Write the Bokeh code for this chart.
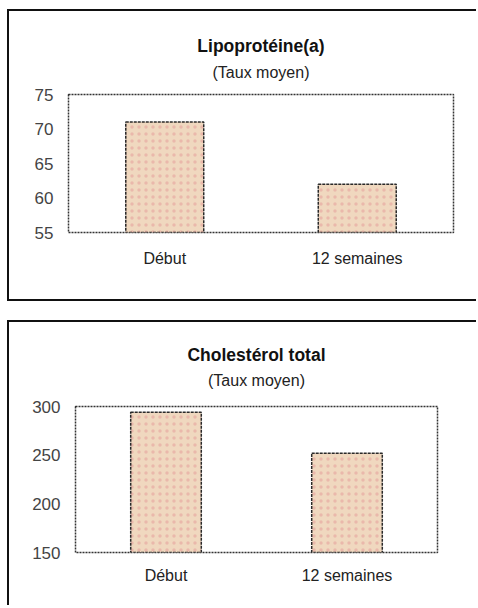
from bokeh.plotting import figure
from bokeh.models import Range1d, FactorRange, FixedTicker, Title
from bokeh.embed import file_html
from bokeh.resources import INLINE

categories = ["Début", "12 semaines"]
lpa_values = [71, 62]
lpa_ticks = [55, 60, 65, 70, 75]
chol_values = [294, 252]
chol_ticks = [150, 200, 250, 300]

FONT = "Liberation Sans"


def panel(title, subtitle, values, ticks, ymin, ymax, width, height,
          bl, br, bt, bb, bar_w, sub_standoff, main_standoff, margin_top, x_standoff,
          border_bottom):
    styles = {"border-left": "2px solid #111", "border-top": "2px solid #111",
              "margin-left": "7px", "margin-top": margin_top}
    if border_bottom:
        styles["border-bottom"] = "2px solid #111"
    p = figure(x_range=FactorRange(*categories, range_padding=0),
               y_range=Range1d(ymin, ymax),
               width=width, height=height, title=None,
               output_backend="svg", toolbar_location=None,
               min_border_left=bl, min_border_right=br,
               min_border_top=bt, min_border_bottom=bb,
               background_fill_color="white", border_fill_color="white",
               styles=styles)
    p.vbar(x=categories, top=values, bottom=ymin, width=bar_w,
           fill_color="#f0d8bf", line_color="#2a2a2a", line_width=1.5, line_dash="3 1",
           hatch_pattern="dot", hatch_color="#e8aea4", hatch_alpha=0.75,
           hatch_scale=7, hatch_weight=1.1)
    p.add_layout(Title(text=subtitle, align="center", text_font=FONT,
                       text_font_size="16px", text_font_style="normal",
                       text_color="#222", standoff=sub_standoff), "above")
    p.add_layout(Title(text=title, align="center", text_font=FONT,
                       text_font_size="17.5px", text_font_style="bold",
                       text_color="#111", standoff=main_standoff), "above")
    p.outline_line_color = "#333"
    p.outline_line_dash = "2 1"
    p.outline_line_width = 1.5
    p.xgrid.grid_line_color = None
    p.ygrid.grid_line_color = None
    p.yaxis.ticker = FixedTicker(ticks=ticks)
    for ax in (p.xaxis[0], p.yaxis[0]):
        ax.axis_line_color = None
        ax.major_tick_line_color = None
        ax.minor_tick_line_color = None
        ax.major_label_text_font = FONT
    p.yaxis.major_label_text_font_size = "17px"
    p.xaxis.major_label_text_font_size = "16px"
    p.yaxis.major_label_text_color = "#444"
    p.xaxis.major_label_text_color = "#222"
    p.xaxis.major_label_standoff = x_standoff
    p.yaxis.major_label_standoff = 9
    return p


p1 = panel("Lipoprotéine(a)", "(Taux moyen)", lpa_values, lpa_ticks, 55, 75,
           469, 292, 59, 25, 83, 71, 0.405, 28, -17, "9px", 11, True)
p2 = panel("Cholestérol total", "(Taux moyen)", chol_values, chol_ticks, 150, 300,
           469, 285, 66, 41, 84, 55, 0.39, 36, -27, "19px", 8, False)

open("out.html", "w").write(file_html([p1, p2], INLINE))
